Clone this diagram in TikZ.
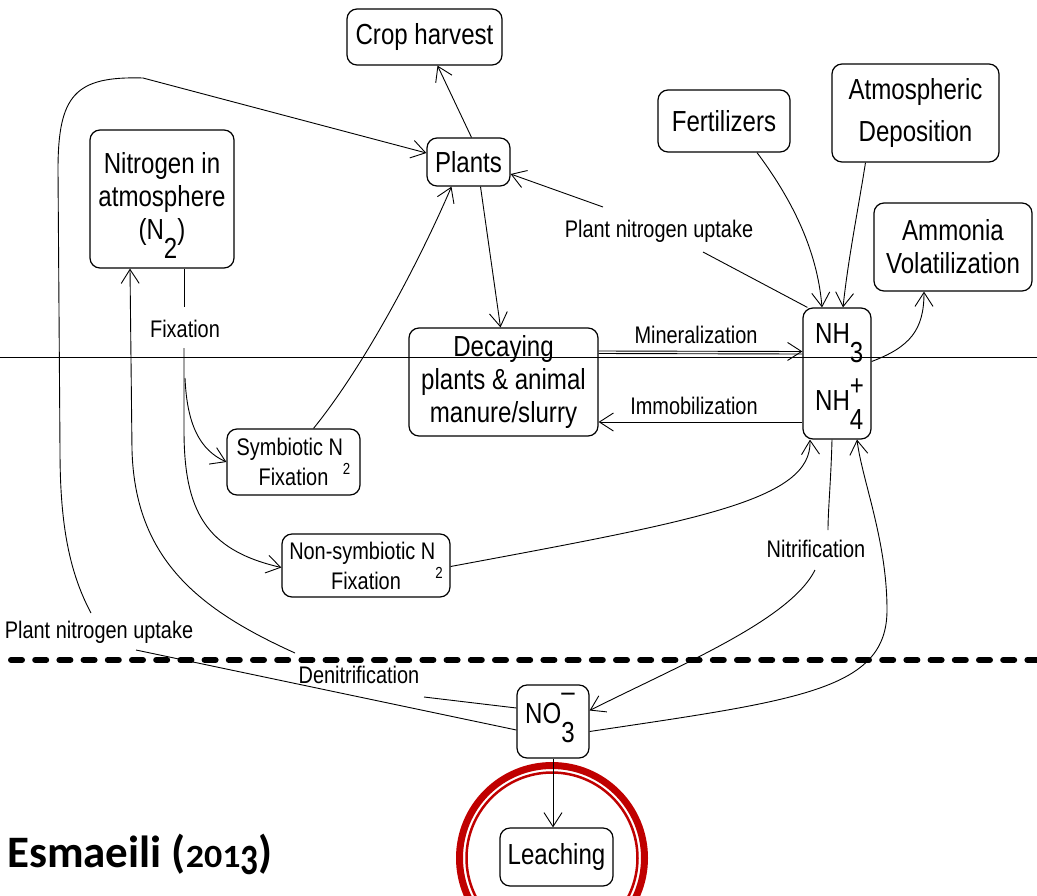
\documentclass[tikz,border=0pt]{standalone}
\usepackage{fontspec}
\setmainfont{Liberation Sans}[FakeStretch=0.83]
\newfontfamily\esmfont{Carlito}
\usetikzlibrary{arrows.meta}
\newcommand\lo[1]{\smash{\raisebox{-0.66em}{#1}}}
\newcommand\hi[1]{\smash{\raisebox{0.5em}{#1}}}
\newcommand\slo[1]{\smash{\raisebox{-19pt}{\fontsize{16}{16}\selectfont #1}}}
\newcommand\bigf{\fontsize{29}{33}\selectfont}
\newcommand\smf{\fontsize{24}{30}\selectfont}
\newcommand\osd[1]{\scalebox{0.8}[0.72]{#1}}
\definecolor{ringred}{RGB}{192,0,0}
\begin{document}
\begin{tikzpicture}[x=1pt,y=-1pt,
 box/.style={draw, line width=1.2pt, rounded corners=10pt, fill=white, align=center, inner sep=0pt, font=\bigf},
 sbox/.style={box, font=\smf},
 lab/.style={font=\smf, inner sep=0pt, anchor=base},
 txt/.style={font=\bigf, inner sep=0pt, anchor=base west},
 con/.style={line width=0.9pt},
 arr/.style={con, -{Straight Barb[length=14pt,width=18pt]}},
]
\clip (0,0) rectangle (1037,895);
\fill[white] (0,0) rectangle (1037,895);

% red rings
\draw[ringred, line width=7pt] (552,858) circle[radius=92.5];
\draw[ringred, line width=2.5pt] (552,858) circle[radius=85.5];

% nodes
\node[box, minimum width=155pt, minimum height=56pt] (crop) at (424.5,37) {Crop harvest};
\node[box, minimum width=83pt, minimum height=48pt] (plants) at (468.5,162) {Plants};
\node[box, minimum width=144pt, minimum height=138pt] (n2) at (162,199) {Nitrogen in\\atmosphere\\(N\lo{2})};
\node[box, minimum width=132pt, minimum height=62pt] (fert) at (724,121) {Fertilizers};
\node[box, minimum width=167pt, minimum height=98pt] (atm) at (915.5,113) {Atmospheric\\[9pt]Deposition};
\node[box, minimum width=158pt, minimum height=88pt] (amm) at (953,247) {Ammonia\\Volatilization};
\node[box, minimum width=68pt, minimum height=131pt] (nh) at (837,373.5) {};
\node[box, minimum width=189pt, minimum height=108pt] (decay) at (503.5,382) {Decaying\\plants \& animal\\manure/slurry};
\node[sbox, minimum width=133pt, minimum height=66pt] (symb) at (293.5,462) {Symbiotic N\slo{2}\\Fixation};
\node[sbox, minimum width=168pt, minimum height=63pt] (nonsymb) at (366,565.5) {Non-symbiotic N\slo{2}\\Fixation};
\node[box, minimum width=72pt, minimum height=73pt] (no3) at (553,721.5) {};
\node[box, minimum width=113pt, minimum height=58pt] (leach) at (556.5,857) {Leaching};

\node[txt] (nh3t) at (815,343) {NH\lo{3}};
\node[txt] (nh4t) at (815,410) {NH\rlap{\hi{+}}\lo{4}};
\node[txt] (no3t) at (525,723) {NO\rlap{\smash{\raisebox{0.75em}{–}}}\lo{3}};

% edge labels
\node[lab] (lfix) at (185,337) {Fixation};
\node[lab] (lpu1) at (659,237) {Plant nitrogen uptake};
\node[lab] (lpu2) at (99,638) {Plant nitrogen uptake};
\node[lab] (lden) at (359,683) {Denitrification};
\node[lab] (lmin) at (696,343) {Mineralization};
\node[lab] (limm) at (694,414) {Immobilization};
\node[lab] (lnit) at (816,557) {Nitrification};
\node[font=\esmfont\bfseries\fontsize{45}{45}\selectfont, anchor=base west, inner sep=0pt] (src) at (7,867) {Esmaeili (\osd{2}\osd{0}\osd{1}\raisebox{-7pt}{\scalebox{0.78}[0.96]{3}})};

% free ends
\coordinate (pu1a) at (703,252);
\coordinate (pu1b) at (603,207);
\coordinate (pu2a) at (136,650);
\coordinate (pu2b) at (91,613);
\coordinate (dna) at (424,697);
\coordinate (dnb) at (295,653);
\coordinate (fxa) at (184,307);
\coordinate (fxb) at (184,348);
\coordinate (fxs) at (185,378);
\coordinate (nia) at (828,530);
\coordinate (nib) at (815,570);

% connectors
\draw[arr] ([xshift=3]plants.north) -- ([xshift=13]crop.south);
\draw[con] ([yshift=-8.5]no3.west) -- (pu2a);
\draw[arr] (pu2b) .. controls (68,570) and (60,520) .. (60,450) -- (58,170) .. controls (58,95) and (75,76) .. (143,78) -- ([yshift=9]plants.west);
\draw[con] ([yshift=13.5]no3.west) -- (dna);
\draw[arr] (dnb) .. controls (200,610) and (135,560) .. (132,450) -- ([xshift=-32]n2.south);
\draw[con] ([xshift=22]n2.south) -- (fxa);
\draw[arr] (fxb) -- (184,430) .. controls (184,510) and (205,550) .. ([yshift=-2]nonsymb.west);
\draw[arr] (fxs) .. controls (187,425) and (200,450) .. (symb.west);
\draw[arr] ([xshift=20]symb.north) .. controls (365,365) and (420,260) .. ([xshift=-17]plants.south);
\draw[arr] ([xshift=12]plants.south) -- ([xshift=-3]decay.north);
\draw[con] ([xshift=5]nh.north west) -- (pu1a);
\draw[arr] (pu1b) -- ([yshift=-12]plants.east);
\draw[arr] ([xshift=33]fert.south) .. controls (800,210) and (818,260) .. ([xshift=-15]nh.north);
\draw[arr] ([xshift=-50]atm.south) .. controls (858,210) and (848,260) .. ([xshift=6]nh.north);
\draw[arr] ([yshift=12]nh.east) .. controls (910,347) and (924,330) .. ([xshift=-29]amm.south);
\draw[arr] ([yshift=31]decay.east) -- ([yshift=22]nh.west);
\draw[con] ([yshift=28.5]decay.east) -- ([yshift=19.5]nh.west);
\draw[arr] ([yshift=-48.5]nh.west) -- ([yshift=-40]decay.east);
\draw[arr] ([yshift=-1]nonsymb.east) .. controls (700,520) and (812,500) .. ([xshift=-27]nh.south);
\draw[con] ([xshift=-5]nh.south) .. controls (831,480) and (828,510) .. (nia);
\draw[arr] (nib) .. controls (790,620) and (680,665) .. ([yshift=11]no3.east);
\draw[arr] ([yshift=-10]no3.east) .. controls (800,700) and (887,690) .. (887,610) .. controls (887,540) and (862,480) .. ([xshift=20]nh.south);
\draw[arr] (no3.south) -- (no3.south |- leach.north);

% divider lines
\draw[line width=1pt] (0,357) -- (1037,357);
\draw[line width=6pt, line cap=round, dash pattern=on 11pt off 13.2pt] (11,660) -- (1037,660);
\end{tikzpicture}
\end{document}
